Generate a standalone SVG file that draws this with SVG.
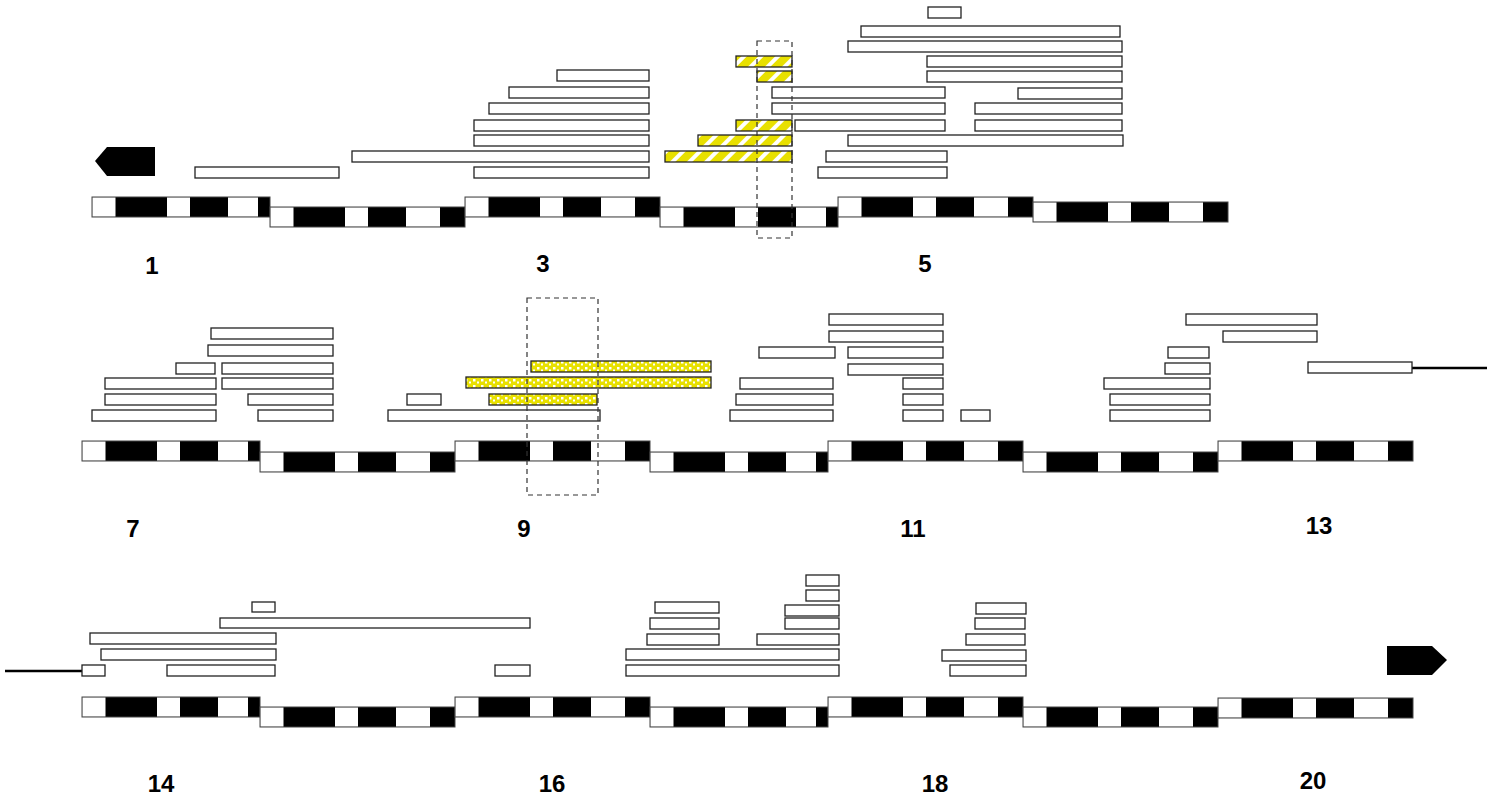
<svg xmlns="http://www.w3.org/2000/svg" width="1494" height="800" viewBox="0 0 1494 800">
<style>
.b{fill:#fff;stroke:#222;stroke-width:1.3}
.h{fill:url(#hatch);stroke:#222;stroke-width:1.3}
.d{fill:url(#dots);stroke:#222;stroke-width:1.3}
.dash{fill:none;stroke:#333;stroke-width:1.2;stroke-dasharray:5,4}
.lbl{font-family:"Liberation Sans",Arial,sans-serif;font-size:24px;font-weight:bold;fill:#000;text-anchor:middle}
.w{fill:#fff}
.seg{fill:#000;stroke:#444;stroke-width:1}
</style>
<defs>
<pattern id="hatch" width="12" height="12" patternUnits="userSpaceOnUse" patternTransform="rotate(45)">
<rect width="12" height="12" fill="#e8e000"/><rect width="4" height="12" fill="#fff"/>
</pattern>
<pattern id="dots" width="8" height="6" patternUnits="userSpaceOnUse">
<rect width="8" height="6" fill="#e8e000"/><rect x="1" y="1" width="2.5" height="2.5" fill="#fff"/><rect x="5" y="3.5" width="2" height="2" fill="#fff"/>
</pattern>
<g id="s178"><rect class="seg" x="0" y="0" width="178" height="20"/><rect class="w" x="0.5" y="0.5" width="23" height="19"/><rect class="w" x="75" y="0.5" width="23" height="19"/><rect class="w" x="136" y="0.5" width="30" height="19"/></g>
<g id="s195"><rect class="seg" x="0" y="0" width="195" height="20"/><rect class="w" x="0.5" y="0.5" width="23" height="19"/><rect class="w" x="75" y="0.5" width="23" height="19"/><rect class="w" x="136" y="0.5" width="34" height="19"/></g>
</defs>
<g id="chromosomes">
<use href="#s178" x="92" y="197"/><use href="#s195" x="270" y="207"/><use href="#s195" x="465" y="197"/><use href="#s178" x="660" y="207"/><use href="#s195" x="838" y="197"/><use href="#s195" x="1033" y="202"/>
<use href="#s178" x="82" y="441"/><use href="#s195" x="260" y="452"/><use href="#s195" x="455" y="441"/><use href="#s178" x="650" y="452"/><use href="#s195" x="828" y="441"/><use href="#s195" x="1023" y="452"/><use href="#s195" x="1218" y="441"/>
<use href="#s178" x="82" y="697"/><use href="#s195" x="260" y="707"/><use href="#s195" x="455" y="697"/><use href="#s178" x="650" y="707"/><use href="#s195" x="828" y="697"/><use href="#s195" x="1023" y="707"/><use href="#s195" x="1218" y="698"/>
</g>
<g id="arrows">
<polygon points="95,161 107,147 155,147 155,176 107,176" fill="#000"/>
<polygon points="1387,646 1432,646 1447,660 1432,675 1387,675" fill="#000"/>
</g>
<g id="connectors" stroke="#000" stroke-width="2.5">
<line x1="1412" y1="368" x2="1487" y2="368"/>
<line x1="5" y1="671" x2="82" y2="671"/>
</g>
<g id="bars1">
<rect class="b" x="928" y="7" width="33" height="11"/>
<rect class="b" x="861" y="26" width="259" height="11"/>
<rect class="b" x="848" y="41" width="274" height="11"/>
<rect class="b" x="927" y="56" width="195" height="11"/>
<rect class="b" x="927" y="71" width="195" height="11"/>
<rect class="b" x="557" y="70" width="92" height="11"/>
<rect class="b" x="509" y="87" width="140" height="11"/>
<rect class="b" x="772" y="87" width="173" height="11"/>
<rect class="b" x="1018" y="88" width="104" height="11"/>
<rect class="b" x="489" y="103" width="160" height="11"/>
<rect class="b" x="772" y="103" width="173" height="11"/>
<rect class="b" x="975" y="103" width="147" height="11"/>
<rect class="b" x="474" y="120" width="175" height="11"/>
<rect class="b" x="795" y="120" width="150" height="11"/>
<rect class="b" x="975" y="120" width="147" height="11"/>
<rect class="b" x="474" y="135" width="175" height="11"/>
<rect class="b" x="848" y="135" width="275" height="11"/>
<rect class="b" x="352" y="151" width="297" height="11"/>
<rect class="b" x="826" y="151" width="121" height="11"/>
<rect class="b" x="195" y="167" width="144" height="11"/>
<rect class="b" x="474" y="167" width="175" height="11"/>
<rect class="b" x="818" y="167" width="129" height="11"/>
<rect class="h" x="736" y="56" width="56" height="11"/>
<rect class="h" x="757" y="71" width="35" height="11"/>
<rect class="h" x="736" y="120" width="56" height="11"/>
<rect class="h" x="698" y="135" width="94" height="11"/>
<rect class="h" x="665" y="151" width="127" height="11"/>
<rect class="dash" x="757" y="41" width="35" height="197"/>
</g>
<g id="bars2">
<rect class="b" x="211" y="328" width="122" height="11"/>
<rect class="b" x="208" y="345" width="125" height="11"/>
<rect class="b" x="176" y="363" width="39" height="11"/>
<rect class="b" x="222" y="363" width="111" height="11"/>
<rect class="b" x="105" y="378" width="111" height="11"/>
<rect class="b" x="222" y="378" width="111" height="11"/>
<rect class="b" x="105" y="394" width="111" height="11"/>
<rect class="b" x="248" y="394" width="85" height="11"/>
<rect class="b" x="92" y="410" width="124" height="11"/>
<rect class="b" x="258" y="410" width="75" height="11"/>
<rect class="b" x="407" y="394" width="34" height="11"/>
<rect class="b" x="388" y="410" width="212" height="11"/>
<rect class="d" x="531" y="361" width="180" height="11"/>
<rect class="d" x="466" y="377" width="245" height="11"/>
<rect class="d" x="489" y="394" width="108" height="11"/>
<rect class="dash" x="527" y="298" width="71" height="197"/>
<rect class="b" x="829" y="314" width="114" height="11"/>
<rect class="b" x="829" y="331" width="114" height="11"/>
<rect class="b" x="759" y="347" width="76" height="11"/>
<rect class="b" x="848" y="347" width="95" height="11"/>
<rect class="b" x="848" y="364" width="95" height="11"/>
<rect class="b" x="740" y="378" width="93" height="11"/>
<rect class="b" x="903" y="378" width="40" height="11"/>
<rect class="b" x="736" y="394" width="97" height="11"/>
<rect class="b" x="903" y="394" width="40" height="11"/>
<rect class="b" x="730" y="410" width="103" height="11"/>
<rect class="b" x="903" y="410" width="40" height="11"/>
<rect class="b" x="961" y="410" width="29" height="11"/>
<rect class="b" x="1186" y="314" width="131" height="11"/>
<rect class="b" x="1223" y="331" width="94" height="11"/>
<rect class="b" x="1168" y="347" width="41" height="11"/>
<rect class="b" x="1165" y="363" width="45" height="11"/>
<rect class="b" x="1104" y="378" width="106" height="11"/>
<rect class="b" x="1110" y="394" width="100" height="11"/>
<rect class="b" x="1110" y="410" width="100" height="11"/>
<rect class="b" x="1308" y="362" width="104" height="11"/>
</g>
<g id="bars3">
<rect class="b" x="252" y="602" width="23" height="10"/>
<rect class="b" x="220" y="618" width="310" height="10"/>
<rect class="b" x="90" y="633" width="186" height="11"/>
<rect class="b" x="101" y="649" width="175" height="11"/>
<rect class="b" x="82" y="665" width="23" height="11"/>
<rect class="b" x="167" y="665" width="108" height="11"/>
<rect class="b" x="495" y="665" width="35" height="11"/>
<rect class="b" x="806" y="575" width="33" height="11"/>
<rect class="b" x="806" y="590" width="33" height="11"/>
<rect class="b" x="655" y="602" width="64" height="11"/>
<rect class="b" x="785" y="605" width="54" height="11"/>
<rect class="b" x="650" y="618" width="69" height="11"/>
<rect class="b" x="785" y="618" width="54" height="11"/>
<rect class="b" x="647" y="634" width="72" height="11"/>
<rect class="b" x="757" y="634" width="82" height="11"/>
<rect class="b" x="626" y="649" width="213" height="11"/>
<rect class="b" x="626" y="665" width="213" height="11"/>
<rect class="b" x="976" y="603" width="50" height="11"/>
<rect class="b" x="975" y="618" width="50" height="11"/>
<rect class="b" x="966" y="634" width="59" height="11"/>
<rect class="b" x="942" y="650" width="84" height="11"/>
<rect class="b" x="950" y="665" width="76" height="11"/>
</g>
<g id="labels">
<text class="lbl" x="152" y="274">1</text>
<text class="lbl" x="543" y="272">3</text>
<text class="lbl" x="925" y="272">5</text>
<text class="lbl" x="133" y="537">7</text>
<text class="lbl" x="524" y="537">9</text>
<text class="lbl" x="913" y="537">11</text>
<text class="lbl" x="1319" y="534">13</text>
<text class="lbl" x="161" y="792">14</text>
<text class="lbl" x="552" y="792">16</text>
<text class="lbl" x="935" y="792">18</text>
<text class="lbl" x="1313" y="789">20</text>
</g>
</svg>
